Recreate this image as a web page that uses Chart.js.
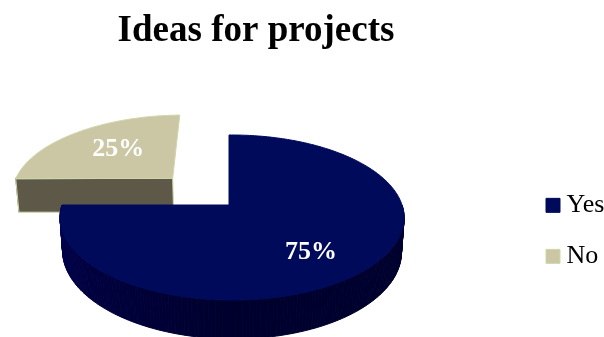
<!DOCTYPE html>
<html>
<head>
<meta charset="utf-8">
<title>Ideas for projects</title>
<script src="https://cdn.jsdelivr.net/npm/chart.js@4"></script>
<style>
  html, body { margin: 0; padding: 0; background: #fff; }
  canvas { display: block; }
</style>
</head>
<body>
<canvas id="ideas-chart" width="604" height="337"></canvas>
<script>
var categories = ["Yes", "No"];
var values = [75, 25];

var topColors = ["#000a5a", "#cbc6a3"];
var edgeColors = ["#000a5a", "#cdd8a8"];
var wallDepth = [33, 36];
var labelRadius = [0.68, 0.6];
var serif = "'Liberation Serif', serif";

// ---------------------------------------------------------------------------------------
// perspective used for the tilted pie

var view = {x0: 229, y0: 205, rx: 170, ry: 80.6, kv: 0.1515, ku: 0.0176, shrink: 0.985};

function project(u, v, depth) {
  var w = 1 - view.kv * v - view.ku * u;
  var x = view.rx * u / w;
  var y = view.ry * v / w;
  if (depth) {
    return {x: view.x0 + x * view.shrink, y: view.y0 + y + depth / w};
  }
  return {x: view.x0 + x, y: view.y0 + y};
}

// wall colour runs from lit at the left to dark towards the right
function wallColor(index, angle) {
  if (index == 1) {
    return "#5e5848";
  }
  var t = Math.max(0, Math.min(1, (Math.PI - angle) / (Math.PI / 2)));
  return "rgb(0,0," + Math.round(80 - 34 * t) + ")";
}

function quad(ctx, a, b, c, d, color, line) {
  ctx.beginPath();
  ctx.moveTo(a.x, a.y);
  ctx.lineTo(b.x, b.y);
  ctx.lineTo(c.x, c.y);
  ctx.lineTo(d.x, d.y);
  ctx.closePath();
  ctx.fillStyle = color;
  ctx.strokeStyle = line;
  ctx.lineWidth = 1;
  ctx.fill();
  ctx.stroke();
}

function drawSlice(ctx, el, index) {
  var start = el.startAngle;
  var end = el.endAngle;
  var mid = (start + end) / 2;
  var ou = el.options.offset / el.outerRadius * Math.cos(mid);
  var ov = el.options.offset / el.outerRadius * Math.sin(mid);
  var steps = Math.ceil((end - start) / (Math.PI / 180));
  var depth = wallDepth[index];
  var rim = [];
  for (var i = 0; i <= steps; i++) {
    var a = start + (end - start) * i / steps;
    rim.push({a: a, u: ou + Math.cos(a), v: ov + Math.sin(a)});
  }

  // outer wall where it faces the viewer, then the front cut face
  for (var j = 0; j < steps; j++) {
    var p = rim[j];
    var q = rim[j + 1];
    if (Math.sin(p.a) < 0) {
      continue;
    }
    var c = wallColor(index, p.a);
    quad(ctx, project(p.u, p.v), project(q.u, q.v), project(q.u, q.v, depth), project(p.u, p.v, depth), c, c);
  }
  var first = rim[0];
  if (index == 1) {
    quad(ctx, project(ou, ov), project(first.u, first.v), project(first.u, first.v, depth), project(ou, ov, depth), wallColor(index, Math.PI), edgeColors[index]);
  }

  // top face
  ctx.beginPath();
  var h = project(ou, ov);
  ctx.moveTo(h.x, h.y);
  rim.forEach(function(r) {
    var t = project(r.u, r.v);
    ctx.lineTo(t.x, t.y);
  });
  ctx.closePath();
  ctx.fillStyle = topColors[index];
  ctx.fill();
  ctx.strokeStyle = edgeColors[index];
  ctx.lineWidth = 1;
  ctx.stroke();
}

function drawLabel(ctx, el, index, total) {
  var mid = (el.startAngle + el.endAngle) / 2;
  var off = el.options.offset / el.outerRadius;
  var turned = mid + 0.08;
  var p = project(off * Math.cos(mid) + labelRadius[index] * Math.cos(turned), off * Math.sin(mid) + labelRadius[index] * Math.sin(turned));
  ctx.fillStyle = "#ffffff";
  ctx.font = "bold 26px " + serif;
  ctx.textAlign = "center";
  ctx.textBaseline = "middle";
  ctx.fillText(Math.round(values[index] / total * 100) + "%", p.x, p.y + 2);
}

var tiltedPie = {
  id: "tiltedPie",
  afterLayout: function(chart) {
    // title is centred over the pie, legend sits close to the right edge
    chart.titleBlock.left = 0;
    chart.titleBlock.right = 512;
    chart.legend.left = 527.5;
    chart.legend.right = 606;
  },
  beforeDatasetDraw: function(chart, args) {
    var ctx = chart.ctx;
    var arcs = args.meta.data;
    var total = values.reduce(function(s, n) { return s + n; }, 0);
    ctx.save();
    // the pulled out slice sits behind the big one
    drawSlice(ctx, arcs[1], 1);
    drawSlice(ctx, arcs[0], 0);
    drawLabel(ctx, arcs[0], 0, total);
    drawLabel(ctx, arcs[1], 1, total);
    ctx.restore();
    return false;
  }
};

new Chart(document.getElementById("ideas-chart"), {
  type: "pie",
  data: {
    labels: categories,
    datasets: [
      {
        data: values,
        backgroundColor: topColors,
        borderColor: edgeColors,
        borderWidth: 1,
        offset: [0, 42]
      }
    ]
  },
  options: {
    responsive: false,
    animation: false,
    plugins: {
      title: {
        display: true,
        text: "Ideas for projects",
        fullSize: false,
        color: "#000000",
        font: {family: serif, size: 37, weight: "bold", lineHeight: 1.1},
        padding: {top: 11, bottom: 73}
      },
      legend: {
        position: "right",
        fullSize: false,
        labels: {
          color: "#000000",
          font: {family: serif, size: 26},
          boxWidth: 1,
          boxHeight: 14,
          padding: 25,
          usePointStyle: true,
          pointStyle: "rect"
        }
      },
      tooltip: {enabled: false}
    }
  },
  plugins: [tiltedPie]
});
</script>
</body>
</html>
